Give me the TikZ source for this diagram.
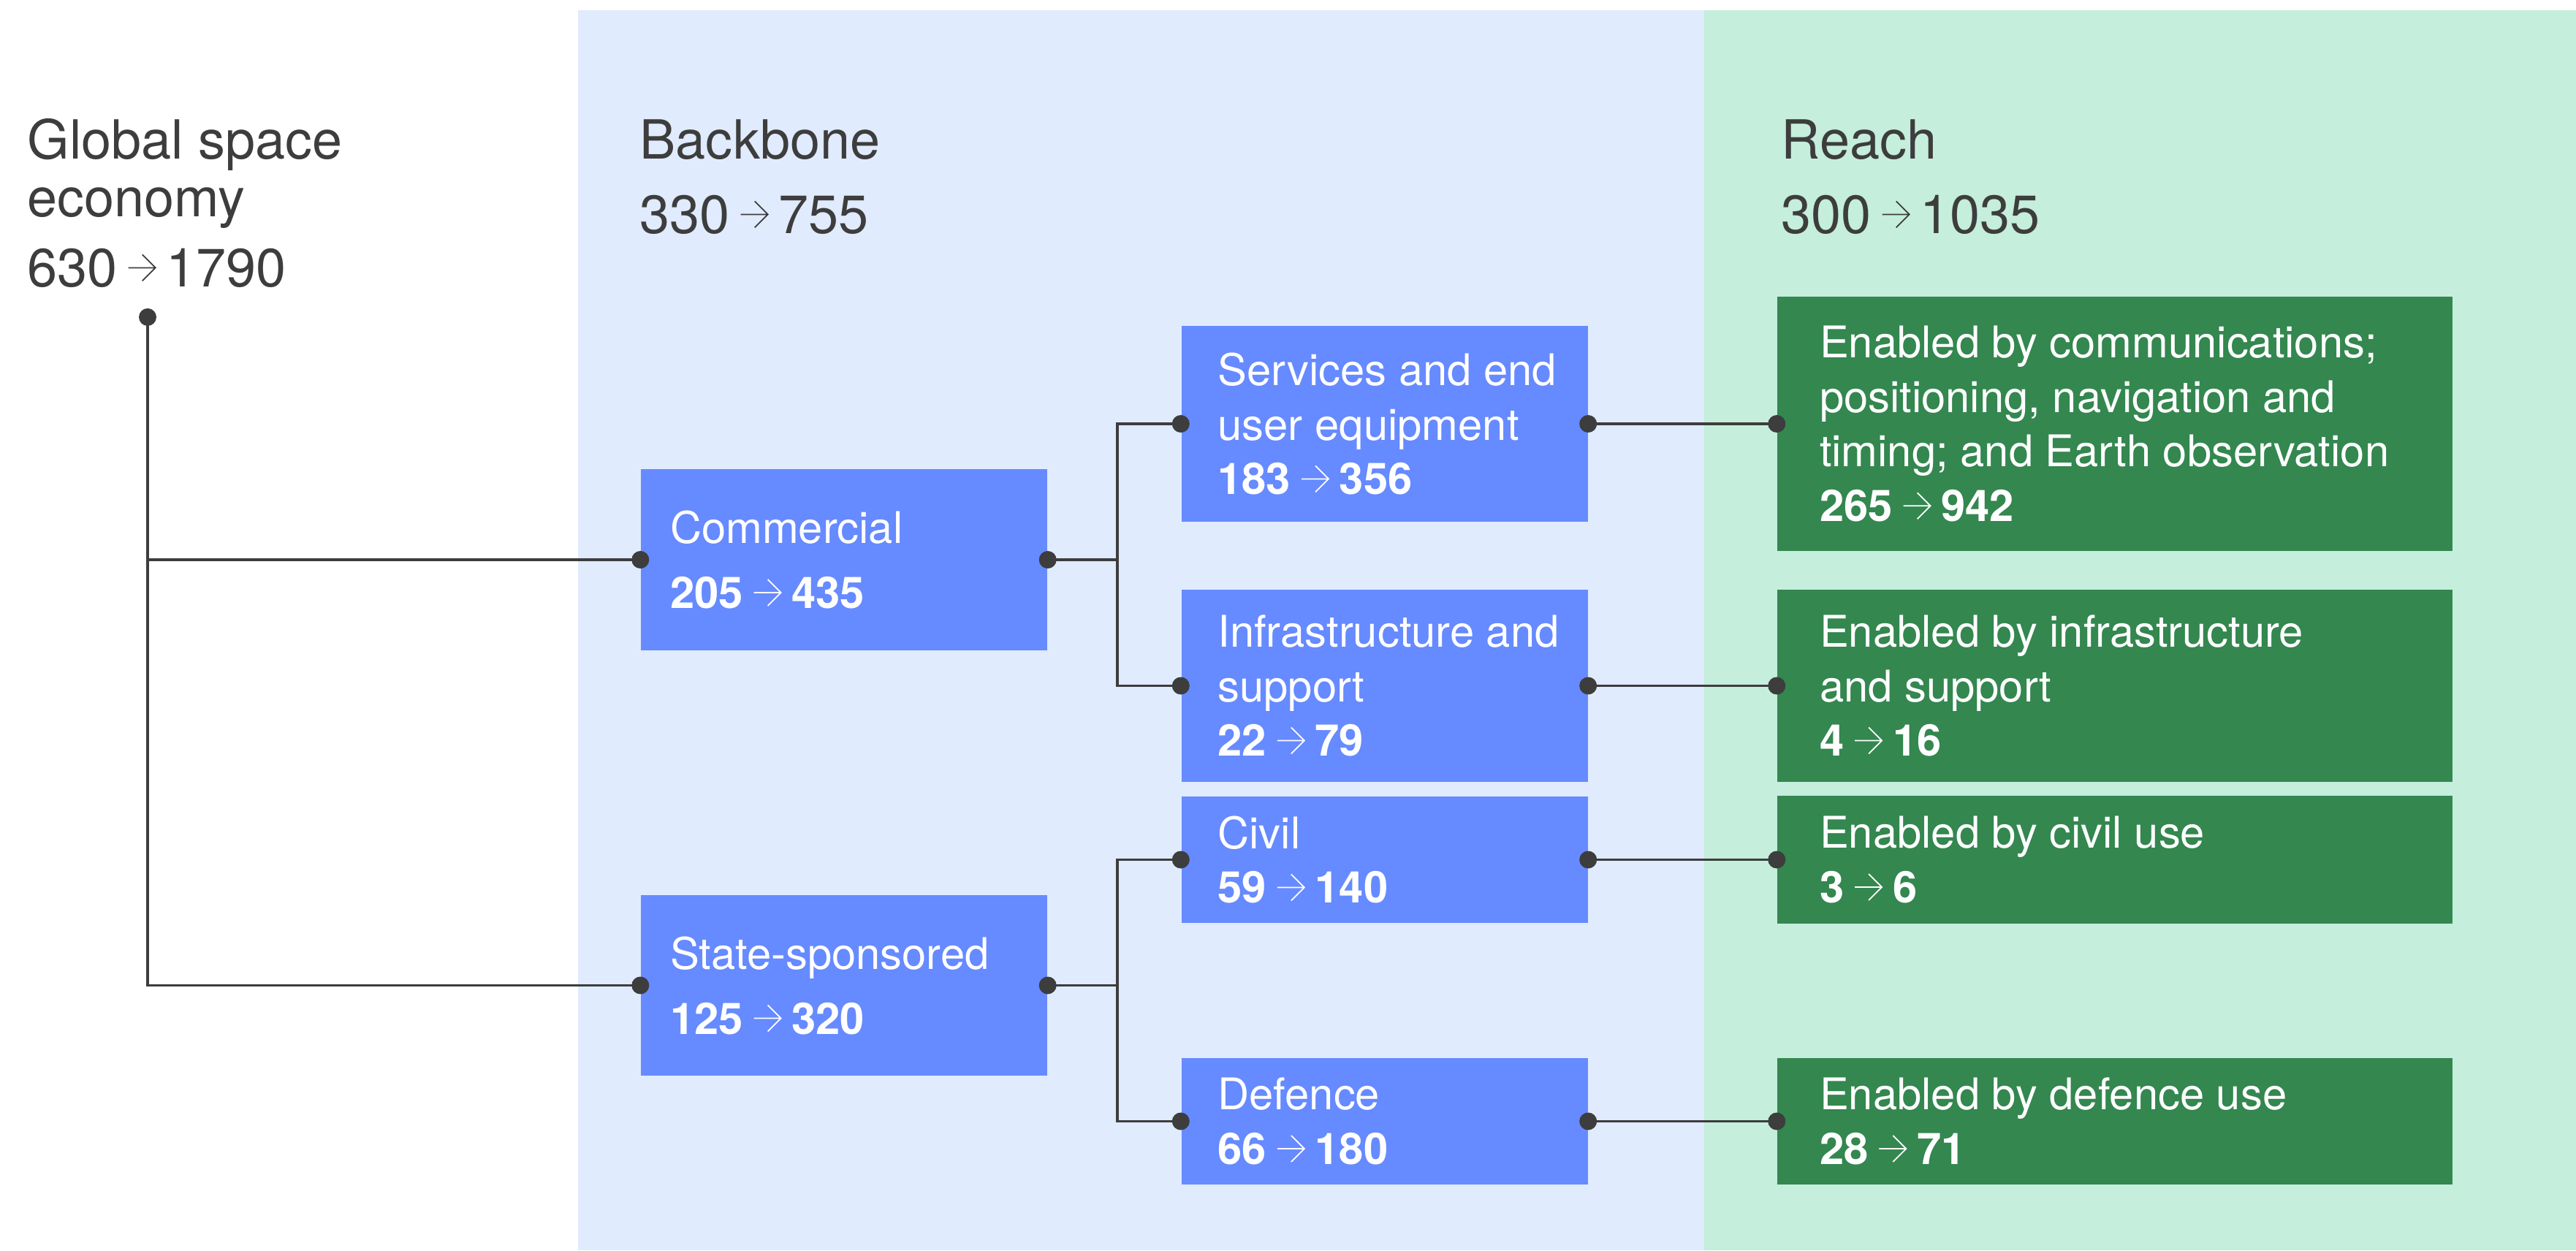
\documentclass[tikz,border=0pt]{standalone}
\usepackage{fontspec}
\setmainfont{TeX Gyre Heros}
\definecolor{bgblue}{HTML}{E0EBFD}
\definecolor{bggreen}{HTML}{C5EEDC}
\definecolor{boxblue}{HTML}{668AFF}
\definecolor{boxgreen}{HTML}{33874F}
\definecolor{ink}{HTML}{3D3D3D}
% thin arrow between two values
\newcommand{\arr}{\hspace{0.14cm}\tikz[baseline=-0.36em]\draw[line width=0.5pt] (0,0) -- (0.37,0) (0.19,0.18) -- (0.37,0) -- (0.19,-0.18);\hspace{0.14cm}}
\tikzset{
	head/.style={anchor=base west, inner sep=0pt, text=ink, font=\fontsize{21}{25}\selectfont},
	backbox/.style={fill=boxblue, inner sep=0pt, minimum width=5.56cm},
	reachbox/.style={fill=boxgreen, inner sep=0pt, minimum width=9.24cm},
	boxtext/.style={anchor=west, inner sep=0pt, text=white, align=left, font=\fontsize{17}{21.3}\selectfont},
	wide/.style={font=\fontsize{17}{25.3}\selectfont},
	link/.style={draw=ink, line width=0.9pt}
}
\begin{document}
\begin{tikzpicture}
	\useasboundingbox (0,0) rectangle (35.25,17.11);
	%backgrounds
	\fill[bgblue] (7.91,0) rectangle (23.32,16.97);
	\fill[bggreen] (23.32,0) rectangle (35.25,16.97);
	
	%headings
	\node[head] (gtitle) at (0.37,14.93) {Global space};
	\node[head] (gtitleb) at (0.37,14.14) {economy};
	\node[head] (gvalue) at (0.37,13.18) {630\arr 1790};
	\node[head] (btitle) at (8.75,14.93) {Backbone};
	\node[head] (bvalue) at (8.75,13.91) {330\arr 755};
	\node[head] (rtitle) at (24.37,14.93) {Reach};
	\node[head] (rvalue) at (24.37,13.91) {300\arr 1035};
	
	%backbone, first level
	\node[backbox, minimum height=2.48cm] (commercial) at (11.55,9.45) {};
	\node[backbox, minimum height=2.47cm] (state) at (11.55,3.625) {};
	\node[boxtext, wide] (commercial-t) at ([xshift=0.4cm]commercial.west) {Commercial\\\textbf{205\arr 435}};
	\node[boxtext, wide] (state-t) at ([xshift=0.4cm]state.west) {State-sponsored\\\textbf{125\arr 320}};
	
	%backbone, second level
	\node[backbox, minimum height=2.68cm] (services) at (18.945,11.31) {};
	\node[backbox, minimum height=2.63cm] (infra) at (18.945,7.725) {};
	\node[backbox, minimum height=1.73cm] (civil) at (18.945,5.345) {};
	\node[backbox, minimum height=1.73cm] (defence) at (18.945,1.765) {};
	\node[boxtext] (services-t) at ([xshift=0.5cm]services.west) {Services and end\\user equipment\\\textbf{183\arr 356}};
	\node[boxtext] (infra-t) at ([xshift=0.5cm]infra.west) {Infrastructure and\\support\\\textbf{22\arr 79}};
	\node[boxtext] (civil-t) at ([xshift=0.5cm]civil.west) {Civil\\\textbf{59\arr 140}};
	\node[boxtext] (defence-t) at ([xshift=0.5cm]defence.west) {Defence\\\textbf{66\arr 180}};
	
	%reach
	\node[reachbox, minimum height=3.48cm] (reachcom) at (28.94,11.31) {};
	\node[reachbox, minimum height=2.63cm] (reachinfra) at (28.94,7.725) {};
	\node[reachbox, minimum height=1.75cm] (reachcivil) at (28.94,5.345) {};
	\node[reachbox, minimum height=1.73cm] (reachdef) at (28.94,1.765) {};
	\node[boxtext] (reachcom-t) at ([xshift=0.58cm]reachcom.west) {Enabled by communications;\\positioning, navigation and\\timing; and Earth observation\\\textbf{265\arr 942}};
	\node[boxtext] (reachinfra-t) at ([xshift=0.58cm]reachinfra.west) {Enabled by infrastructure\\and support\\\textbf{4\arr 16}};
	\node[boxtext] (reachcivil-t) at ([xshift=0.58cm]reachcivil.west) {Enabled by civil use\\\textbf{3\arr 6}};
	\node[boxtext] (reachdef-t) at ([xshift=0.58cm]reachdef.west) {Enabled by defence use\\\textbf{28\arr 71}};
	
	%connectors
	\node[circle, fill=ink, inner sep=0pt, minimum size=0.24cm] (top) at (2.02,12.77) {};
	\coordinate (cj) at (15.29,9.45);
	\coordinate (sj) at (15.29,3.625);
	\draw[link] (top.center) |- (commercial.west);
	\draw[link] (top.center) |- (state.west);
	\draw[link] (commercial.east) -- (cj);
	\draw[link] (services.west) -| (cj) |- (infra.west);
	\draw[link] (state.east) -- (sj);
	\draw[link] (civil.west) -| (sj) |- (defence.west);
	\foreach \a/\b in {services/reachcom, infra/reachinfra, civil/reachcivil, defence/reachdef}{
		\draw[link] (\a.east) -- (\b.west);
		\fill[ink] (\a.east) circle (0.12);
		\fill[ink] (\a.west) circle (0.12);
		\fill[ink] (\b.west) circle (0.12);
	}
	\foreach \p in {commercial.west, commercial.east, state.west, state.east}
		\fill[ink] (\p) circle (0.12);
\end{tikzpicture}
\end{document}
